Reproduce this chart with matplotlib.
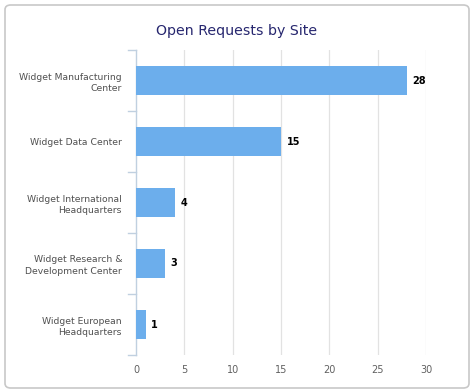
import matplotlib
matplotlib.use("Agg")
import matplotlib.pyplot as plt
from matplotlib.patches import FancyBboxPatch
import numpy as np

categories = ["Widget Manufacturing\nCenter", "Widget Data Center",
              "Widget International\nHeadquarters", "Widget Research &\nDevelopment Center",
              "Widget European\nHeadquarters"]
values = [28, 15, 4, 3, 1]
xticks = [0, 5, 10, 15, 20, 25, 30]

fig = plt.figure(figsize=(4.74, 3.92), dpi=100)
fig.patch.set_facecolor("white")
border = FancyBboxPatch((5/474, 4/392), 464/474, 383/392,
                        boxstyle="round,pad=0,rounding_size=0.012",
                        transform=fig.transFigure, facecolor="none",
                        edgecolor="#c8c8c8", linewidth=1.2, zorder=-10)
fig.patches.append(border)

ax = fig.add_axes([136/474, 37/392, 290/474, 305/392])
ax.set_facecolor("none")
y = np.arange(len(categories))
ax.barh(y, values, height=0.46, color="#6caeec", zorder=3)
ax.set_ylim(len(categories) - 0.5, -0.5)
ax.set_xlim(0, 30)
ax.set_xticks(xticks)
ax.set_xticklabels([str(t) for t in xticks], color="#606060", fontsize=7)
ax.set_yticks(y)
ax.set_yticklabels(categories, color="#505050", fontsize=6.7, linespacing=1.35)
ax.tick_params(axis="y", length=0, pad=10)
ax.tick_params(axis="x", length=0, pad=7)
for b in np.arange(-0.5, len(categories) + 0.5, 1):
    ax.plot([-0.028, 0], [b, b], transform=ax.get_yaxis_transform(),
            color="#c0d0e0", lw=1, clip_on=False)
for t in xticks[1:]:
    ax.axvline(t, color="#e2e2e2", lw=0.9, zorder=1)
for s in ["top", "right", "bottom"]:
    ax.spines[s].set_visible(False)
ax.spines["left"].set_color("#c0d0e0")
ax.spines["left"].set_linewidth(1)

for yi, v in zip(y, values):
    ax.annotate(str(v), (v, yi), xytext=(4, 0), textcoords="offset points",
                va="center", ha="left", fontsize=7, fontweight="bold", color="black")

fig.text(0.5, 1 - 31/392, "Open Requests by Site", ha="center", va="center",
         fontsize=10.2, color="#27276f")

fig.savefig("out.png", dpi=100)
